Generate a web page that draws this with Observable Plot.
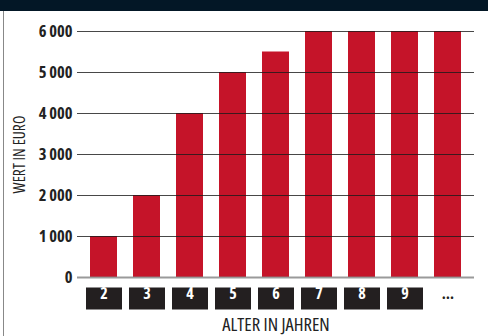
<!DOCTYPE html>
<html><head><meta charset="utf-8">
<script src="https://cdn.jsdelivr.net/npm/d3@7"></script>
<script src="https://cdn.jsdelivr.net/npm/@observablehq/plot@0.6"></script>
<style>
body{margin:0;background:#fff;}
#wrap{position:relative;width:488px;height:336px;overflow:hidden;}
#band{height:11px;background:#031726;}
#border{position:absolute;left:3px;top:11px;width:1px;height:325px;background:#888;}
#chart svg text{font-stretch:75%;}
</style></head><body>
<div id="wrap"><div id="band"></div><div id="border"></div><div id="chart"></div></div>
<script>
const ages = ["2","3","4","5","6","7","8","9","…"];
const values = [1000,2000,4000,5000,5500,6000,6000,6000,6000];
const yTicks = [0,1000,2000,3000,4000,5000,6000];
const yTickLabels = ["0","1\u2009000","2\u2009000","3\u2009000","4\u2009000","5\u2009000","6\u2009000"];
const yLabel = "WERT IN EURO";
const xLabel = "ALTER IN JAHREN";

const data = ages.map((a,i)=>({age:a, value:values[i]}));
const boxed = ages.filter(a => a !== "…");
const font = "'Open Sans',sans-serif";
const boxSymbol = {draw(ctx){ ctx.rect(-18,-11,36,22); }};

const chart = Plot.plot({
  width: 488, height: 325,
  marginTop: 20, marginBottom: 59, marginLeft: 74, marginRight: 11,
  style: {fontFamily: font, color:"#222", background:"transparent"},
  x: {domain: ages, padding: 0.372, axis: null},
  y: {domain: [0,6000], axis: null},
  marks: [
    Plot.barY(data, {x:"age", y:"value", fill:"#c51429"}),
    Plot.ruleY(yTicks.filter(d=>d>0), {stroke:"#1a1a1a", strokeOpacity:0.8, strokeWidth:1, insetLeft:3, insetRight:3}),
    Plot.ruleY([0], {stroke:"#888", strokeOpacity:0.85, strokeWidth:2, insetLeft:3, insetRight:3}),
    Plot.axisY({ticks: yTicks, tickFormat: (d,i)=>yTickLabels[yTicks.indexOf(d)], tickSize:0, tickPadding:2,
      fontSize:16.5, fontWeight:"bold", label: yLabel, labelAnchor:"center", labelArrow:"none", labelOffset:61}),
    Plot.dot(boxed, {x: d=>d, frameAnchor:"bottom", dy:21, symbol: boxSymbol, fill:"#231f20", stroke:"none"}),
    Plot.text(ages, {x: d=>d, frameAnchor:"bottom", dy:21, text: d=>d,
      fill: d => d === "…" ? "#231f20" : "#fff", fontSize:16, fontWeight:"bold"}),
    Plot.axisX({tickSize:0, tickFormat: ()=> "", label: xLabel, labelAnchor:"center", labelArrow:"none", labelOffset:53})
  ]
});
document.getElementById("chart").appendChild(chart);
d3.select(chart).selectAll("[aria-label='y-axis label'] text")
  .style("font-size","15.5px").style("font-weight","normal");
d3.select(chart).selectAll("[aria-label='x-axis label'] text")
  .style("font-size","18.5px").style("font-weight","normal");
</script>
</body></html>
